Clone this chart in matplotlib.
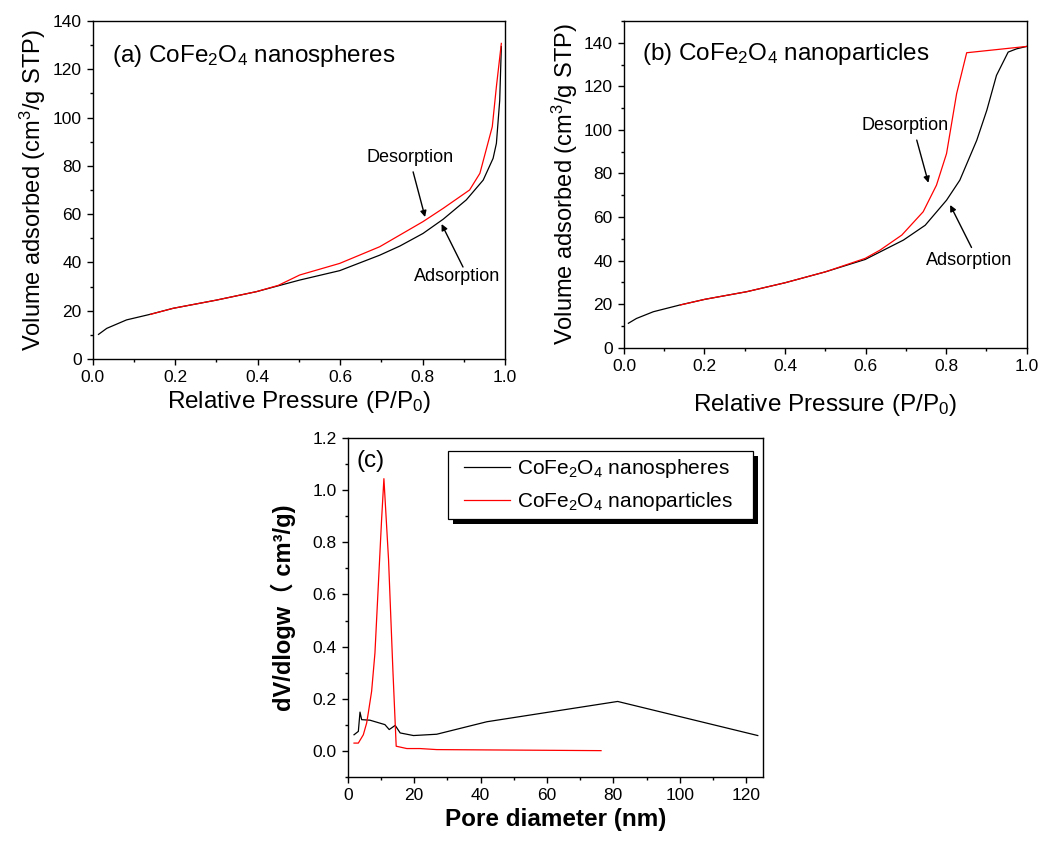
import matplotlib
matplotlib.use("Agg")
import matplotlib.pyplot as plt
from matplotlib.ticker import MultipleLocator, FormatStrFormatter
from matplotlib.patches import Rectangle

plt.rcParams['font.family'] = ['Liberation Sans', 'Noto Sans CJK SC', 'DejaVu Sans']
plt.rcParams['mathtext.fontset'] = 'custom'
plt.rcParams['mathtext.rm'] = 'Liberation Sans'
plt.rcParams['mathtext.it'] = 'Liberation Sans'
plt.rcParams['mathtext.bf'] = 'Liberation Sans:bold'

# ---------------- data ----------------
# (a) nanospheres isotherm
a_ads_x = [0.014, 0.034, 0.082, 0.139, 0.195, 0.30, 0.397, 0.502, 0.599, 0.696, 0.745, 0.801, 0.85, 0.906, 0.947, 0.971, 0.979, 0.987, 0.991]
a_ads_y = [10.2, 12.7, 16.2, 18.5, 21.0, 24.4, 27.9, 32.7, 36.6, 43.0, 46.8, 52.0, 57.9, 65.9, 74.1, 83.1, 89.3, 107.0, 129.4]
a_des_x = [0.14, 0.195, 0.30, 0.397, 0.45, 0.502, 0.599, 0.696, 0.801, 0.85, 0.914, 0.939, 0.969, 0.979, 0.991]
a_des_y = [18.5, 21.0, 24.4, 27.9, 30.5, 34.8, 39.6, 46.5, 56.9, 62.4, 70.0, 76.9, 96.2, 112.8, 130.7]

# (b) nanoparticles isotherm
b_ads_x = [0.011, 0.031, 0.073, 0.139, 0.201, 0.305, 0.40, 0.50, 0.599, 0.694, 0.748, 0.801, 0.834, 0.876, 0.901, 0.925, 0.954, 0.975, 1.0]
b_ads_y = [11.2, 13.4, 16.5, 19.6, 22.2, 25.7, 29.8, 34.8, 40.5, 49.4, 56.2, 67.7, 76.9, 95.2, 109.0, 125.0, 135.7, 137.2, 138.3]
b_des_x = [0.14, 0.201, 0.305, 0.40, 0.50, 0.599, 0.636, 0.69, 0.743, 0.776, 0.801, 0.826, 0.851, 1.0]
b_des_y = [19.6, 22.2, 25.7, 29.8, 34.8, 41.0, 44.8, 51.7, 62.4, 74.6, 89.1, 116.6, 135.4, 138.3]

# (c) pore size distribution
c_ns_x = [1.9, 3.2, 3.7, 4.2, 6.7, 11.2, 12.5, 14.3, 15.8, 19.8, 26.8, 41.9, 81.3, 123.5]
c_ns_y = [0.061, 0.074, 0.148, 0.119, 0.117, 0.100, 0.081, 0.097, 0.068, 0.058, 0.063, 0.111, 0.189, 0.058]
c_np_x = [1.9, 3.2, 4.7, 5.7, 6.2, 7.2, 8.2, 9.2, 10.2, 10.9, 12.3, 13.6, 14.6, 17.8, 21.8, 26.8, 76.3]
c_np_y = [0.029, 0.029, 0.061, 0.106, 0.145, 0.228, 0.375, 0.631, 0.887, 1.045, 0.733, 0.311, 0.017, 0.008, 0.008, 0.004, 0.0]

fig = plt.figure(figsize=(10.42, 8.41), dpi=100)

TICK_FS = 12.5
LAB_FS = 17.5
YLAB_FS = 17
TITLE_FS = 17.5
ANN_FS = 13
SUB = r'$\mathregular{CoFe_2O_4}$'


def style(ax):
    for s in ax.spines.values():
        s.set_linewidth(1.0)
    ax.tick_params(which='both', direction='out', top=False, right=False, labelsize=TICK_FS, width=1.0)
    ax.tick_params(which='major', length=4.5)
    ax.tick_params(which='minor', length=2.5)


ARROW = dict(arrowstyle='-|>', color='black', lw=1, mutation_scale=9, shrinkA=0, shrinkB=0)

# ---- (a)
axa = fig.add_axes([0.089, 0.5731, 0.3957, 0.402])
axa.plot(a_ads_x, a_ads_y, color='black', lw=0.9)
axa.plot(a_des_x, a_des_y, color='red', lw=0.9)
axa.set_xlim(0, 1.0)
axa.set_ylim(0, 140)
axa.xaxis.set_major_locator(MultipleLocator(0.2))
axa.xaxis.set_minor_locator(MultipleLocator(0.1))
axa.yaxis.set_major_locator(MultipleLocator(20))
axa.yaxis.set_minor_locator(MultipleLocator(10))
axa.xaxis.set_major_formatter(FormatStrFormatter('%.1f'))
style(axa)
axa.set_xlabel(r'Relative Pressure (P/P$_0$)', fontsize=LAB_FS, labelpad=3)
axa.set_ylabel(r'Volume adsorbed (cm$^3$/g STP)', fontsize=YLAB_FS, labelpad=3)
axa.text(0.046, 0.879, '(a) ' + SUB + ' nanospheres', transform=axa.transAxes, fontsize=TITLE_FS, va='baseline')
axa.annotate('', xy=(0.806, 58.8), xytext=(0.777, 77.5), arrowprops=ARROW)
axa.text(0.769, 80.0, 'Desorption', fontsize=ANN_FS, ha='center', va='bottom')
axa.annotate('', xy=(0.846, 55.9), xytext=(0.898, 38.1), arrowprops=ARROW)
axa.text(0.884, 34.0, 'Adsorption', fontsize=ANN_FS, ha='center', va='center')

# ---- (b)
axb = fig.add_axes([0.5988, 0.5866, 0.3865, 0.3885])
axb.plot(b_ads_x, b_ads_y, color='black', lw=0.9)
axb.plot(b_des_x, b_des_y, color='red', lw=0.9)
axb.set_xlim(0, 1.0)
axb.set_ylim(0, 150)
axb.xaxis.set_major_locator(MultipleLocator(0.2))
axb.xaxis.set_minor_locator(MultipleLocator(0.1))
axb.yaxis.set_major_locator(MultipleLocator(20))
axb.yaxis.set_minor_locator(MultipleLocator(10))
axb.xaxis.set_major_formatter(FormatStrFormatter('%.1f'))
style(axb)
axb.set_xlabel(r'Relative Pressure (P/P$_0$)', fontsize=LAB_FS, labelpad=13)
axb.set_ylabel(r'Volume adsorbed (cm$^3$/g STP)', fontsize=YLAB_FS, labelpad=3)
axb.text(0.044, 0.881, '(b) ' + SUB + ' nanoparticles', transform=axb.transAxes, fontsize=TITLE_FS, va='baseline')
axb.annotate('', xy=(0.756, 75.7), xytext=(0.727, 95.3), arrowprops=ARROW)
axb.text(0.699, 101.8, 'Desorption', fontsize=ANN_FS, ha='center', va='center')
axb.annotate('', xy=(0.81, 65.5), xytext=(0.863, 46.0), arrowprops=ARROW)
axb.text(0.857, 40.2, 'Adsorption', fontsize=ANN_FS, ha='center', va='center')

# ---- (c)
axc = fig.add_axes([0.3337, 0.0765, 0.3983, 0.4023])
axc.plot(c_ns_x, c_ns_y, color='black', lw=0.9, label=SUB + ' nanospheres')
axc.plot(c_np_x, c_np_y, color='red', lw=0.9, label=SUB + ' nanoparticles')
axc.set_xlim(0, 125)
axc.set_ylim(-0.1, 1.2)
axc.xaxis.set_major_locator(MultipleLocator(20))
axc.xaxis.set_minor_locator(MultipleLocator(10))
axc.yaxis.set_major_locator(MultipleLocator(0.2))
axc.yaxis.set_minor_locator(MultipleLocator(0.1))
axc.yaxis.set_major_formatter(FormatStrFormatter('%.1f'))
style(axc)
axc.set_xlabel('Pore diameter (nm)', fontsize=LAB_FS, fontweight='bold', labelpad=4)
axc.set_ylabel('dV/dlogw\uff08 cm\u00b3/g)', fontsize=YLAB_FS, fontweight='bold', labelpad=12)
axc.text(0.022, 0.916, '(c)', transform=axc.transAxes, fontsize=TITLE_FS, va='baseline')
leg = axc.legend(loc='upper right', bbox_to_anchor=(0.945, 0.962), fontsize=15, frameon=False,
                 borderpad=0.3, handlelength=2.2, handletextpad=0.35, labelspacing=0.45,
                 borderaxespad=0)
leg.set_zorder(6)

fig.canvas.draw()
bb = leg.get_window_extent()
inv = fig.transFigure.inverted()
extra_left = 10
extra_right = 13
off = 5
fx0, fy0 = bb.x0 - extra_left, bb.y0
fx1, fy1 = bb.x1 + extra_right, bb.y1
(sx0, sy0) = inv.transform((fx0 + off, fy0 - off))
(sx1, sy1) = inv.transform((fx1 + off, fy1 - off))
axc.add_artist(Rectangle((sx0, sy0), sx1 - sx0, sy1 - sy0, transform=fig.transFigure,
                         facecolor='black', edgecolor='none', zorder=4.4, clip_on=False))
(gx0, gy0) = inv.transform((fx0, fy0))
(gx1, gy1) = inv.transform((fx1, fy1))
axc.add_artist(Rectangle((gx0, gy0), gx1 - gx0, gy1 - gy0, transform=fig.transFigure,
                         facecolor='white', edgecolor='black', linewidth=0.9, zorder=4.5, clip_on=False))

fig.savefig('out.png', dpi=100)
